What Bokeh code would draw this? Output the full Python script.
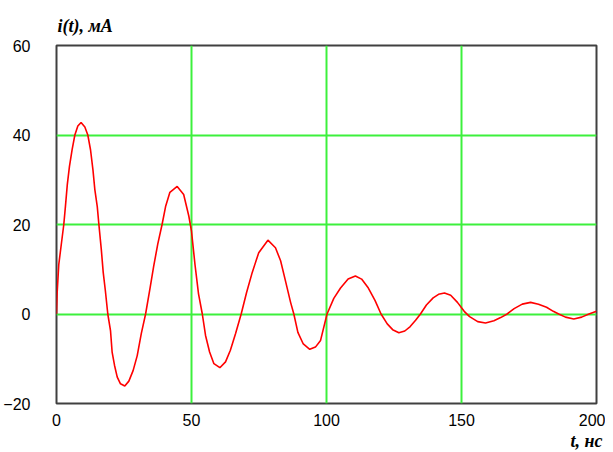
from bokeh.plotting import figure
from bokeh.models import Range1d, Title, FixedTicker
from bokeh.embed import file_html
from bokeh.resources import INLINE

# time, ns
t_ns = [0, 0.0, 0.25, 0.85, 1.7, 2.7, 3.3, 4.0, 4.8, 5.8, 6.8, 7.9, 9.1, 10.5, 11.6, 12.6,
        13.5, 14.2, 15.1, 15.7, 16.6, 17.3, 18.1, 19.0, 20.0, 20.6, 21.5, 22.5, 23.7,
        25.3, 26.8, 28.4, 29.9, 31.4, 33.0, 34.6, 36.0, 37.5, 39.1, 40.4, 42.0, 44.7,
        47.1, 49.0, 50.0, 51.3, 52.6, 54.0, 55.2, 56.7, 58.3, 60.5, 62.6, 64.4, 66.3,
        68.4, 70.4, 72.5, 74.9, 78.3, 81.1, 83.0, 84.8, 86.7, 87.9, 89.4, 91.4, 93.8,
        95.9, 97.8, 100.2, 102.7, 105.2, 108.0, 110.7, 113.0, 115.5, 118.0, 120.2,
        122.5, 124.5, 126.8, 129.0, 131.0, 133.0, 134.8, 137.0, 139.5, 141.5, 143.7,
        146.0, 148.5, 151.0, 153.0, 156.0, 158.9, 162.0, 164.5, 166.9, 169.5, 172.5,
        175.6, 178.5, 181.5, 184.0, 186.0, 188.5, 191.6, 194.5, 197.2, 200.0]
# current, mA
i_mA = [0, 0.0, 4.8, 11.1, 15.2, 20.0, 24.0, 28.9, 33.0, 36.8, 40.0, 42.0, 42.8, 41.8, 40.0,
        36.7, 32.2, 27.8, 24.0, 20.0, 14.4, 9.3, 5.2, 0.0, -3.7, -8.5, -11.5, -14.1,
        -15.6, -16.1, -15.0, -12.6, -9.3, -4.4, 0.0, 5.6, 10.7, 15.6, 20.0, 24.0, 27.2,
        28.5, 26.7, 21.9, 18.5, 11.0, 4.5, 0.0, -4.8, -8.5, -11.1, -12.0, -10.7, -8.1,
        -4.4, 0.0, 4.8, 9.3, 13.7, 16.5, 14.8, 11.9, 7.4, 2.6, 0.0, -4.1, -6.7, -7.9,
        -7.4, -5.9, 0.0, 3.5, 5.8, 7.8, 8.5, 7.8, 5.8, 3.0, 0.0, -2.2, -3.5, -4.2,
        -3.8, -2.8, -1.4, 0.0, 2.0, 3.6, 4.4, 4.7, 4.2, 2.6, 0.6, -0.6, -1.7, -2.0,
        -1.5, -0.8, 0.0, 1.2, 2.2, 2.6, 2.2, 1.5, 0.6, 0.0, -0.7, -1.1, -0.7, 0.0, 0.6]

x_ticks = [0, 50, 100, 150, 200]
y_ticks = [-20, 0, 20, 40, 60]
y_title = "i(t), мА"
x_title = "t, нс"

W, H = 605, 450
p = figure(width=W, height=H, output_backend="svg", toolbar_location=None,
           x_range=Range1d(0, 200), y_range=Range1d(-20, 60),
           min_border_left=48, min_border_right=9, min_border_top=45, min_border_bottom=45)

p.xaxis.ticker = FixedTicker(ticks=x_ticks)
p.yaxis.ticker = FixedTicker(ticks=y_ticks)
for ax in (p.xaxis[0], p.yaxis[0]):
    ax.axis_line_color = None
    ax.major_tick_line_color = None
    ax.minor_tick_line_color = None
    ax.major_label_text_font = "Liberation Sans"
    ax.major_label_text_font_size = "16px"
    ax.major_label_text_color = "black"
p.xaxis.major_label_standoff = 4
p.yaxis.major_label_standoff = 20

p.xgrid.grid_line_color = "#3cf03c"
p.ygrid.grid_line_color = "#3cf03c"
p.xgrid.grid_line_width = 2
p.ygrid.grid_line_width = 2
p.outline_line_color = "#404040"
p.outline_line_width = 2
p.background_fill_color = "white"
p.border_fill_color = "white"

p.line(t_ns, i_mA, line_color="#ff0000", line_width=1.6)

p.add_layout(Title(text=y_title, align="left", offset=1, standoff=19,
                   text_font="Liberation Serif", text_font_style="bold italic",
                   text_font_size="18px", text_color="black"), "above")
p.add_layout(Title(text=x_title, align="right", offset=-6, standoff=0,
                   text_font="Liberation Serif", text_font_style="bold italic",
                   text_font_size="18px", text_color="black"), "below")

open("out.html", "w").write(file_html(p, INLINE))
